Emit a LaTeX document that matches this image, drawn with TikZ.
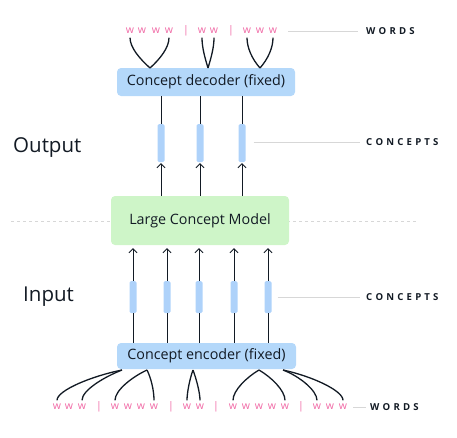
\documentclass[tikz,border=0pt]{standalone}
\usepackage{fontspec}
\setmainfont{Open Sans}
\usetikzlibrary{arrows.meta,calc}
\definecolor{boxblue}{RGB}{180,216,250}
\definecolor{barblue}{RGB}{174,210,250}
\definecolor{lcmgreen}{RGB}{206,245,200}
\definecolor{wordpink}{RGB}{240,105,165}
\definecolor{ink}{RGB}{18,26,36}
\definecolor{guide}{RGB}{215,215,215}
\tikzset{
  wordw/.style={text=wordpink, font=\fontsize{10.5}{10}\selectfont, inner sep=0pt, text height=5pt, text depth=0pt, anchor=center},
  box/.style={rounded corners=4pt, inner sep=0pt, font=\fontsize{14.3}{16}\selectfont, text=ink},
  bar/.style={fill=barblue, draw=none, rounded corners=1.5pt, minimum width=7pt, inner sep=0pt},
  brace/.style={draw=ink, line width=1.3pt},
  link/.style={draw=ink, line width=1pt},
  arr/.style={draw=ink, line width=0.9pt, -{Straight Barb[length=4pt,width=8pt,line width=0.9pt]}},
  guideline/.style={draw=guide, line width=0.8pt},
  tag/.style={anchor=west, inner sep=0pt, font=\fontsize{9.6}{10}\selectfont\bfseries, text=ink},
  side/.style={anchor=west, inner sep=0pt, font=\fontsize{20.5}{22}\selectfont, text=ink}
}
\newcommand{\spaced}[1]{\def\spsep{}\spacedloop#1\relax}
\def\spacedloop#1{\ifx#1\relax\else\spsep#1\def\spsep{\kern3.2pt}\expandafter\spacedloop\fi}
\begin{document}
\begin{tikzpicture}[x=1pt,y=-1pt]
\useasboundingbox (0,0) rectangle (457,437);
% dashed separator
\draw[guide, line width=0.8pt, dash pattern=on 3pt off 3pt] (11,221) -- (417,221);
% boxes
\node[box, fill=boxblue, minimum width=178pt, minimum height=28pt] (dec) at (206,82) {Concept decoder (fixed)};
\node[box, fill=lcmgreen, minimum width=178pt, minimum height=49pt] (lcm) at (200,220.5) {Large Concept Model};
\node[box, fill=boxblue, minimum width=179pt, minimum height=26pt] (enc) at (206.5,356) {Concept encoder (fixed)};
% top concept bars
\foreach \x/\n in {161/c1,200/c2,242/c3}{
  \node[bar, minimum height=38pt] (\n) at (\x,143) {};
  \draw[link] (\n.north) -- (\n.north |- dec.south);
  \draw[arr, shorten >=1pt] (\n.south |- lcm.north) -- (\n.south);
}
% bottom concept bars
\foreach \x/\n in {133/d1,167/d2,199/d3,234/d4,268/d5}{
  \node[bar, minimum height=32pt] (\n) at (\x,297) {};
  \draw[link] (\n.south) -- (\n.south |- enc.north);
  \draw[arr, shorten >=3pt] (\n.north) -- (\n.north |- lcm.south);
}
% top words
\foreach \x/\n in {130/t1,142/t2,156/t3,169/t4,202/t5,214/t6,247/t7,260/t8,273/t9}{
  \node[wordw] (\n) at (\x,31) {w};
}
\foreach \x/\n in {186/ts1,231/ts2}{
  \node[wordw] (\n) at (\x,30.5) {|};
}
% bottom words
\foreach \x/\n in {57/b1,69/b2,82/b3,115/b4,128/b5,141/b6,154/b7,187/b8,200/b9,233/b10,246/b11,259/b12,272/b13,285/b14,317/b15,330/b16,343/b17}{
  \node[wordw] (\n) at (\x,407) {w};
}
\foreach \x/\n in {99/bs1,171/bs2,216/bs3,301/bs4}{
  \node[wordw] (\n) at (\x,406.5) {|};
}
% meeting points
\coordinate (m1) at (150,68);
\coordinate (m2) at (208,68);
\coordinate (m3) at (260,68);
\coordinate (n1) at (122,370);
\coordinate (n2) at (147,370);
\coordinate (n3) at (193,370);
\coordinate (n4) at (259,370);
\coordinate (n5) at (283,370);
% top braces
\draw[brace, shorten <=4pt] (t1.south) .. controls +(0,14) and +(-10,-9) .. (m1);
\draw[brace, shorten <=4pt] (t4.south) .. controls +(0,14) and +(10,-9) .. (m1);
\draw[brace, shorten <=4pt] (t5.south) .. controls +(0,14) and +(-3,-10) .. (m2);
\draw[brace, shorten <=4pt] (t6.south) .. controls +(0,14) and +(3,-10) .. (m2);
\draw[brace, shorten <=4pt] (t7.south) .. controls +(0,14) and +(-8,-9) .. (m3);
\draw[brace, shorten <=4pt] (t9.south) .. controls +(0,14) and +(8,-9) .. (m3);
% bottom braces
\draw[brace, shorten <=4pt] (b1.north) .. controls +(0,-14) and +(-30,6) .. (n1);
\draw[brace, shorten <=4pt] (b3.north) .. controls +(0,-14) and +(-18,7) .. (n1);
\draw[brace, shorten <=4pt] (b4.north) .. controls +(0,-14) and +(-15,7) .. (n2);
\draw[brace, shorten <=4pt] (b7.north) .. controls +(0,-14) and +(4,8) .. (n2);
\draw[brace, shorten <=4pt] (b8.north) .. controls +(0,-12) and +(-3,8) .. (n3);
\draw[brace, shorten <=4pt] (b9.north) .. controls +(0,-12) and +(3,8) .. (n3);
\draw[brace, shorten <=4pt] (b10.north) .. controls +(0,-14) and +(-12,7) .. (n4);
\draw[brace, shorten <=4pt] (b14.north) .. controls +(0,-14) and +(12,7) .. (n4);
\draw[brace, shorten <=4pt] (b15.north) .. controls +(0,-14) and +(16,6) .. (n5);
\draw[brace, shorten <=4pt] (b17.north) .. controls +(0,-14) and +(28,6) .. (n5);
% side labels
\node[tag] (wordsTop) at (366,31) {\spaced{WORDS}};
\node[tag] (conceptsTop) at (366,142) {\spaced{CONCEPTS}};
\node[tag] (conceptsBot) at (366,297) {\spaced{CONCEPTS}};
\node[tag] (wordsBot) at (370,407) {\spaced{WORDS}};
\draw[guideline] ($(t9.east)+(11,0)$) -- ($(wordsTop.west)+(-8,0)$);
\draw[guideline] ($(c3.east)+(8,-1)$) -- ($(conceptsTop.west)+(-6,0)$);
\draw[guideline] ($(d5.east)+(6,0)$) -- ($(conceptsBot.west)+(-6,0)$);
\draw[guideline] ($(b17.east)+(6,0)$) -- ($(wordsBot.west)+(-4,0)$);
\node[side] (outlbl) at (13,148) {Output};
\node[side] (inlbl) at (23,297) {Input};
\end{tikzpicture}
\end{document}
